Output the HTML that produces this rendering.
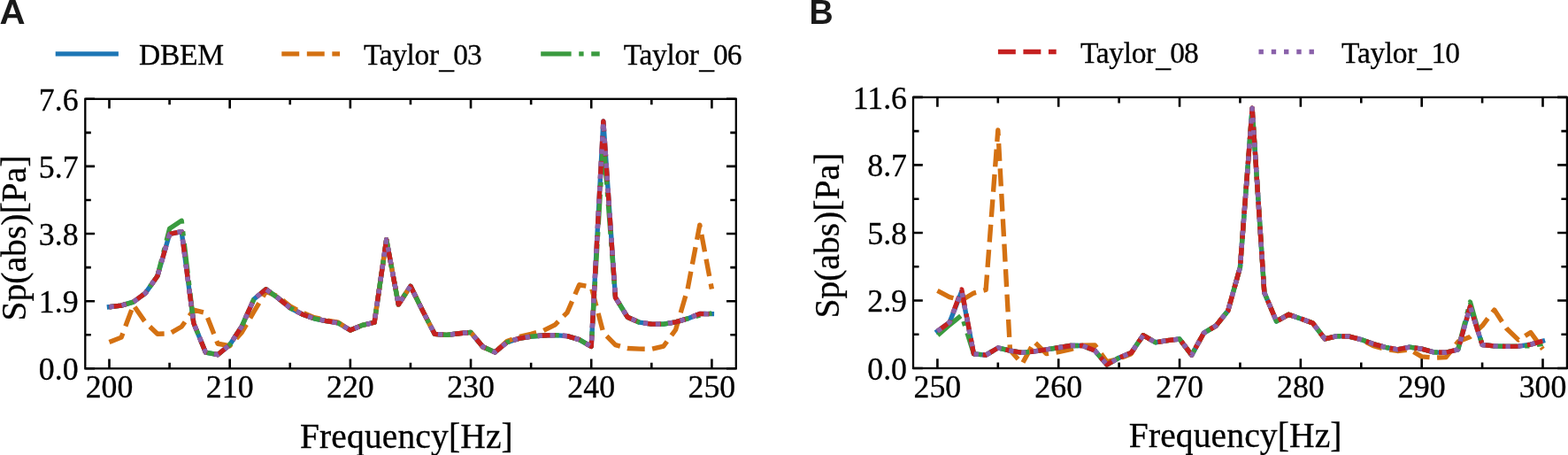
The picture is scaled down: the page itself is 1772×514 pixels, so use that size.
<!DOCTYPE html>
<html lang="en"><head><meta charset="utf-8"><title>Sp(abs) vs Frequency</title>
<style>html,body{margin:0;padding:0;background:#fff;}body{width:1772px;height:514px;overflow:hidden;}svg{display:block;}svg text{font-family:"Liberation Serif",serif;fill:#000;stroke:#000;stroke-width:0.3px;}svg text.pl{font-family:"Liberation Sans",sans-serif;font-weight:bold;fill:#1a1a1a;stroke:none;}</style>
</head><body>
<svg width="1772" height="514" viewBox="0 0 1772 514">
<rect width="1772" height="514" fill="#fff"/>
<clipPath id="cl"><rect x="96.30" y="111.80" width="735.50" height="304.50"/></clipPath>
<clipPath id="cr"><rect x="1032.00" y="109.90" width="738.90" height="306.10"/></clipPath>
<g clip-path="url(#cl)">
<path d="M123.50,346.71 L137.12,345.06 L150.74,341.10 L164.35,331.12 L177.97,311.73 L191.59,264.45 L205.21,261.65 L218.83,365.02 L232.44,398.19 L246.06,400.71 L259.68,389.50 L273.30,368.62 L286.92,337.97 L300.53,326.79 L314.15,336.57 L327.77,347.79 L341.39,354.92 L355.01,359.81 L368.62,362.61 L382.24,364.82 L395.86,372.95 L409.48,367.38 L423.10,364.25 L436.71,270.70 L450.33,343.90 L463.95,323.23 L477.57,350.91 L491.19,377.32 L504.80,378.32 L518.42,376.72 L532.04,375.43 L545.66,391.70 L559.28,397.91 L572.89,386.69 L586.51,382.32 L600.13,380.12 L613.75,379.00 L627.37,378.60 L640.98,379.60 L654.60,383.61 L668.22,391.46 L681.84,137.04 L695.46,336.01 L709.07,358.20 L722.69,364.21 L736.31,366.10 L749.93,366.10 L763.55,363.81 L777.16,359.89 L790.78,354.44 L804.40,354.64" fill="none" stroke="#1d76b5" stroke-width="5.37" stroke-linejoin="round" stroke-linecap="square"/>
<path d="M123.50,386.61 L137.12,381.12 L150.74,344.58 L164.35,364.21 L177.97,377.24 L191.59,376.84 L205.21,369.02 L218.83,350.19 L232.44,353.52 L246.06,388.25 L259.68,390.74 L273.30,375.43 L286.92,352.19 L300.53,329.36 L314.15,334.97 L327.77,345.78 L341.39,353.00 L355.01,358.61 L368.62,361.81 L382.24,364.21 L395.86,372.95 L409.48,367.38 L423.10,364.25 L436.71,270.70 L450.33,343.90 L463.95,323.23 L477.57,350.91 L491.19,377.32 L504.80,378.32 L518.42,376.72 L532.04,375.43 L545.66,391.70 L559.28,397.91 L572.89,385.45 L586.51,380.44 L600.13,377.24 L613.75,373.63 L627.37,366.82 L640.98,353.08 L654.60,321.74 L668.22,324.15 L681.84,375.83 L695.46,389.66 L709.07,393.54 L722.69,394.14 L736.31,394.34 L749.93,391.02 L763.55,372.51 L777.16,326.15 L790.78,254.11 L804.40,326.55" fill="none" stroke="#d47112" stroke-width="5.37" stroke-linejoin="round" stroke-linecap="butt" stroke-dasharray="19.65,8.50"/>
<path d="M123.50,346.71 L137.12,345.06 L150.74,341.10 L164.35,331.12 L177.97,311.73 L191.59,258.32 L205.21,249.23 L218.83,365.02 L232.44,398.19 L246.06,400.71 L259.68,389.50 L273.30,368.62 L286.92,337.97 L300.53,326.79 L314.15,336.57 L327.77,347.79 L341.39,354.92 L355.01,359.81 L368.62,362.61 L382.24,364.82 L395.86,372.95 L409.48,367.38 L423.10,364.25 L436.71,270.70 L450.33,343.90 L463.95,323.23 L477.57,350.91 L491.19,377.32 L504.80,378.32 L518.42,376.72 L532.04,375.43 L545.66,391.70 L559.28,397.91 L572.89,386.69 L586.51,382.32 L600.13,380.12 L613.75,379.00 L627.37,378.60 L640.98,379.60 L654.60,383.61 L668.22,391.46 L681.84,157.88 L695.46,336.01 L709.07,358.20 L722.69,364.21 L736.31,366.10 L749.93,366.10 L763.55,363.81 L777.16,359.89 L790.78,356.20 L804.40,353.80" fill="none" stroke="#3a9b3f" stroke-width="5.37" stroke-linejoin="round" stroke-linecap="butt" stroke-dasharray="33.98,8.50,5.31,8.50" stroke-dashoffset="3.00"/>
<path d="M123.50,346.71 L137.12,345.06 L150.74,341.10 L164.35,331.12 L177.97,311.73 L191.59,264.45 L205.21,261.65 L218.83,365.02 L232.44,398.19 L246.06,400.71 L259.68,389.50 L273.30,368.62 L286.92,337.97 L300.53,326.79 L314.15,336.57 L327.77,347.79 L341.39,354.92 L355.01,359.81 L368.62,362.61 L382.24,364.82 L395.86,372.95 L409.48,367.38 L423.10,364.25 L436.71,270.70 L450.33,343.90 L463.95,323.23 L477.57,350.91 L491.19,377.32 L504.80,378.32 L518.42,376.72 L532.04,375.43 L545.66,391.70 L559.28,397.91 L572.89,386.69 L586.51,382.32 L600.13,380.12 L613.75,379.00 L627.37,378.60 L640.98,379.60 L654.60,383.61 L668.22,391.46 L681.84,137.04 L695.46,336.01 L709.07,358.20 L722.69,364.21 L736.31,366.10 L749.93,366.10 L763.55,363.81 L777.16,359.89 L790.78,354.44 L804.40,354.64" fill="none" stroke="#c52020" stroke-width="5.37" stroke-linejoin="round" stroke-linecap="butt" stroke-dasharray="19.65,8.50"/>
<path d="M123.50,346.71 L137.12,345.06 L150.74,341.10 L164.35,331.12 L177.97,311.73 L191.59,264.45 L205.21,261.65 L218.83,365.02 L232.44,398.19 L246.06,400.71 L259.68,389.50 L273.30,368.62 L286.92,337.97 L300.53,326.79 L314.15,336.57 L327.77,347.79 L341.39,354.92 L355.01,359.81 L368.62,362.61 L382.24,364.82 L395.86,372.95 L409.48,367.38 L423.10,364.25 L436.71,270.70 L450.33,343.90 L463.95,323.23 L477.57,350.91 L491.19,377.32 L504.80,378.32 L518.42,376.72 L532.04,375.43 L545.66,391.70 L559.28,397.91 L572.89,386.69 L586.51,382.32 L600.13,380.12 L613.75,379.00 L627.37,378.60 L640.98,379.60 L654.60,383.61 L668.22,391.46 L681.84,137.04 L695.46,336.01 L709.07,358.20 L722.69,364.21 L736.31,366.10 L749.93,366.10 L763.55,363.81 L777.16,359.89 L790.78,354.44 L804.40,354.64" fill="none" stroke="#8a61aa" stroke-width="5.37" stroke-linejoin="round" stroke-linecap="butt" stroke-dasharray="5.31,8.76"/>
</g>
<path d="M123.50,416.30v-10.80 M123.50,111.80v10.80 M259.68,416.30v-10.80 M259.68,111.80v10.80 M395.86,416.30v-10.80 M395.86,111.80v10.80 M532.04,416.30v-10.80 M532.04,111.80v10.80 M668.22,416.30v-10.80 M668.22,111.80v10.80 M804.40,416.30v-10.80 M804.40,111.80v10.80 M191.59,416.30v-6.50 M191.59,111.80v6.50 M327.77,416.30v-6.50 M327.77,111.80v6.50 M463.95,416.30v-6.50 M463.95,111.80v6.50 M600.13,416.30v-6.50 M600.13,111.80v6.50 M736.31,416.30v-6.50 M736.31,111.80v6.50 M96.30,416.30h10.80 M831.80,416.30h-10.80 M96.30,340.18h10.80 M831.80,340.18h-10.80 M96.30,264.05h10.80 M831.80,264.05h-10.80 M96.30,187.92h10.80 M831.80,187.92h-10.80 M96.30,111.80h10.80 M831.80,111.80h-10.80 M96.30,378.24h6.50 M831.80,378.24h-6.50 M96.30,302.11h6.50 M831.80,302.11h-6.50 M96.30,225.99h6.50 M831.80,225.99h-6.50 M96.30,149.86h6.50 M831.80,149.86h-6.50" stroke="#000" stroke-width="2.60" fill="none"/>
<rect x="96.30" y="111.80" width="735.50" height="304.50" fill="none" stroke="#000" stroke-width="2.30"/>
<g clip-path="url(#cr)">
<path d="M1059.40,374.20 L1073.08,364.20 L1086.76,329.18 L1100.45,399.82 L1114.13,401.09 L1127.81,392.99 L1141.49,396.10 L1155.17,398.35 L1168.86,396.97 L1182.54,394.86 L1196.22,392.75 L1209.90,390.51 L1223.58,390.51 L1237.27,396.10 L1250.95,411.91 L1264.63,404.20 L1278.31,398.61 L1291.99,378.69 L1305.68,386.76 L1319.36,384.65 L1333.04,383.04 L1346.72,401.09 L1360.40,376.18 L1374.09,368.11 L1387.77,351.01 L1401.45,302.00 L1415.13,122.30 L1428.81,330.50 L1442.50,362.96 L1456.18,355.31 L1469.86,359.93 L1483.54,364.91 L1497.22,382.96 L1510.91,379.61 L1524.59,380.11 L1538.27,383.60 L1551.95,388.56 L1565.63,392.30 L1579.32,394.78 L1593.00,392.04 L1606.68,394.15 L1620.36,397.90 L1634.04,398.27 L1647.73,394.78 L1661.41,346.34 L1675.09,389.51 L1688.77,390.85 L1702.45,391.43 L1716.14,391.06 L1729.82,389.11 L1743.50,385.21" fill="none" stroke="#1d76b5" stroke-width="5.37" stroke-linejoin="round" stroke-linecap="square"/>
<path d="M1059.40,328.47 L1073.08,335.57 L1086.76,339.32 L1100.45,331.03 L1114.13,327.49 L1127.81,146.84 L1141.49,395.50 L1155.17,410.99 L1168.86,386.18 L1182.54,399.64 L1196.22,397.61 L1209.90,394.63 L1223.58,390.14 L1237.27,389.88 L1250.95,408.61 L1264.63,405.18 L1278.31,399.64 L1291.99,378.69 L1305.68,386.76 L1319.36,384.65 L1333.04,383.04" fill="none" stroke="#d47112" stroke-width="5.37" stroke-linejoin="round" stroke-linecap="butt" stroke-dasharray="19.87,8.59"/>
<path d="M1333.04,383.04 L1346.72,401.09 L1360.40,376.18 L1374.09,368.11 L1387.77,351.01 L1401.45,302.00 L1415.13,122.30 L1428.81,330.50 L1442.50,362.96 L1456.18,355.31 L1469.86,359.93 L1483.54,364.91 L1497.22,382.96 L1510.91,379.61 L1524.59,380.11 L1538.27,383.60 L1551.95,390.67 L1565.63,394.36 L1579.32,396.47 L1593.00,394.89 L1606.68,402.89 L1620.36,404.13 L1634.04,403.60 L1647.73,386.08 L1661.41,380.48 L1675.09,368.11 L1688.77,350.03 L1702.45,371.01 L1716.14,384.07 L1729.82,375.49 L1743.50,394.36" fill="none" stroke="#d47112" stroke-width="5.37" stroke-linejoin="round" stroke-linecap="butt" stroke-dasharray="19.65,8.50" stroke-dashoffset="-3.50"/>
<path d="M1059.40,379.11 L1073.08,367.05 L1086.76,356.10 L1100.45,399.82 L1114.13,401.09 L1127.81,392.99 L1141.49,396.10 L1155.17,398.35 L1168.86,396.97 L1182.54,394.86 L1196.22,392.75 L1209.90,390.51 L1223.58,390.51 L1237.27,396.10 L1250.95,411.91 L1264.63,404.20 L1278.31,398.61 L1291.99,378.69 L1305.68,386.76 L1319.36,384.65 L1333.04,383.04 L1346.72,401.09 L1360.40,376.18 L1374.09,368.11 L1387.77,351.01 L1401.45,302.00 L1415.13,122.30 L1428.81,330.50 L1442.50,362.96 L1456.18,355.31 L1469.86,359.93 L1483.54,364.91 L1497.22,382.96 L1510.91,379.61 L1524.59,380.11 L1538.27,383.60 L1551.95,388.56 L1565.63,392.30 L1579.32,394.78 L1593.00,392.04 L1606.68,394.15 L1620.36,397.90 L1634.04,398.27 L1647.73,394.78 L1661.41,341.06 L1675.09,389.51 L1688.77,390.85 L1702.45,391.43 L1716.14,391.06 L1729.82,390.67 L1743.50,388.29" fill="none" stroke="#3a9b3f" stroke-width="5.37" stroke-linejoin="round" stroke-linecap="butt" stroke-dasharray="33.98,8.50,5.31,8.50" stroke-dashoffset="-0.50"/>
<path d="M1059.40,374.20 L1073.08,364.20 L1086.76,327.10 L1100.45,399.82 L1114.13,401.09 L1127.81,392.99 L1141.49,396.10 L1155.17,398.35 L1168.86,396.97 L1182.54,394.86 L1196.22,392.75 L1209.90,390.51 L1223.58,390.51 L1237.27,396.10 L1250.95,411.91 L1264.63,404.20 L1278.31,398.61 L1291.99,378.69 L1305.68,386.76 L1319.36,384.65 L1333.04,383.04 L1346.72,401.09 L1360.40,376.18 L1374.09,368.11 L1387.77,351.01 L1401.45,302.00 L1415.13,122.30 L1428.81,330.50 L1442.50,362.96 L1456.18,355.31 L1469.86,359.93 L1483.54,364.91 L1497.22,382.96 L1510.91,379.61 L1524.59,380.11 L1538.27,383.60 L1551.95,388.56 L1565.63,392.30 L1579.32,394.78 L1593.00,392.04 L1606.68,394.15 L1620.36,397.90 L1634.04,398.27 L1647.73,394.78 L1661.41,346.34 L1675.09,389.51 L1688.77,390.85 L1702.45,391.43 L1716.14,391.06 L1729.82,389.11 L1743.50,385.21" fill="none" stroke="#c52020" stroke-width="5.37" stroke-linejoin="round" stroke-linecap="butt" stroke-dasharray="19.65,8.50"/>
<path d="M1059.40,374.20 L1073.08,364.20 L1086.76,329.18 L1100.45,399.82 L1114.13,401.09 L1127.81,392.99 L1141.49,396.10 L1155.17,398.35 L1168.86,396.97 L1182.54,394.86 L1196.22,392.75 L1209.90,390.51 L1223.58,390.51 L1237.27,396.10 L1250.95,411.91 L1264.63,404.20 L1278.31,398.61 L1291.99,378.69 L1305.68,386.76 L1319.36,384.65 L1333.04,383.04 L1346.72,401.09 L1360.40,376.18 L1374.09,368.11 L1387.77,351.01 L1401.45,302.00 L1415.13,122.30 L1428.81,330.50 L1442.50,362.96 L1456.18,355.31 L1469.86,359.93 L1483.54,364.91 L1497.22,382.96 L1510.91,379.61 L1524.59,380.11 L1538.27,383.60 L1551.95,388.56 L1565.63,392.30 L1579.32,394.78 L1593.00,392.04 L1606.68,394.15 L1620.36,397.90 L1634.04,398.27 L1647.73,394.78 L1661.41,346.34 L1675.09,389.51 L1688.77,390.85 L1702.45,391.43 L1716.14,391.06 L1729.82,389.11 L1743.50,385.21" fill="none" stroke="#8a61aa" stroke-width="5.37" stroke-linejoin="round" stroke-linecap="butt" stroke-dasharray="5.31,8.76"/>
</g>
<path d="M1059.40,416.00v-10.80 M1059.40,109.90v10.80 M1196.22,416.00v-10.80 M1196.22,109.90v10.80 M1333.04,416.00v-10.80 M1333.04,109.90v10.80 M1469.86,416.00v-10.80 M1469.86,109.90v10.80 M1606.68,416.00v-10.80 M1606.68,109.90v10.80 M1743.50,416.00v-10.80 M1743.50,109.90v10.80 M1127.81,416.00v-6.50 M1127.81,109.90v6.50 M1264.63,416.00v-6.50 M1264.63,109.90v6.50 M1401.45,416.00v-6.50 M1401.45,109.90v6.50 M1538.27,416.00v-6.50 M1538.27,109.90v6.50 M1675.09,416.00v-6.50 M1675.09,109.90v6.50 M1032.00,416.00h10.80 M1770.90,416.00h-10.80 M1032.00,339.48h10.80 M1770.90,339.48h-10.80 M1032.00,262.95h10.80 M1770.90,262.95h-10.80 M1032.00,186.42h10.80 M1770.90,186.42h-10.80 M1032.00,109.90h10.80 M1770.90,109.90h-10.80 M1032.00,377.74h6.50 M1770.90,377.74h-6.50 M1032.00,301.21h6.50 M1770.90,301.21h-6.50 M1032.00,224.69h6.50 M1770.90,224.69h-6.50 M1032.00,148.16h6.50 M1770.90,148.16h-6.50" stroke="#000" stroke-width="2.60" fill="none"/>
<rect x="1032.00" y="109.90" width="738.90" height="306.10" fill="none" stroke="#000" stroke-width="2.30"/>
<text x="123.50" y="448.60" font-size="35.80" text-anchor="middle">200</text>
<text x="259.68" y="448.60" font-size="35.80" text-anchor="middle">210</text>
<text x="395.86" y="448.60" font-size="35.80" text-anchor="middle">220</text>
<text x="532.04" y="448.60" font-size="35.80" text-anchor="middle">230</text>
<text x="668.22" y="448.60" font-size="35.80" text-anchor="middle">240</text>
<text x="804.40" y="448.60" font-size="35.80" text-anchor="middle">250</text>
<text x="1059.40" y="448.60" font-size="35.80" text-anchor="middle">250</text>
<text x="1196.22" y="448.60" font-size="35.80" text-anchor="middle">260</text>
<text x="1333.04" y="448.60" font-size="35.80" text-anchor="middle">270</text>
<text x="1469.86" y="448.60" font-size="35.80" text-anchor="middle">280</text>
<text x="1606.68" y="448.60" font-size="35.80" text-anchor="middle">290</text>
<text x="1743.50" y="448.60" font-size="35.80" text-anchor="middle">300</text>
<text x="88.60" y="429.20" font-size="35.80" text-anchor="end">0.0</text>
<text x="88.60" y="353.07" font-size="35.80" text-anchor="end">1.9</text>
<text x="88.60" y="276.95" font-size="35.80" text-anchor="end">3.8</text>
<text x="88.60" y="200.82" font-size="35.80" text-anchor="end">5.7</text>
<text x="88.60" y="124.70" font-size="35.80" text-anchor="end">7.6</text>
<text x="1025.00" y="428.60" font-size="35.80" text-anchor="end">0.0</text>
<text x="1025.00" y="352.08" font-size="35.80" text-anchor="end">2.9</text>
<text x="1025.00" y="275.55" font-size="35.80" text-anchor="end">5.8</text>
<text x="1025.00" y="199.02" font-size="35.80" text-anchor="end">8.7</text>
<text x="1025.00" y="122.50" font-size="35.80" text-anchor="end">11.6</text>
<text x="459.40" y="505.80" font-size="39.60" text-anchor="middle" letter-spacing="0.1">Frequency[Hz]</text>
<text x="1396.20" y="505.30" font-size="39.60" text-anchor="middle" letter-spacing="0.1">Frequency[Hz]</text>
<text transform="translate(29.00,269.10) rotate(-90)" font-size="39.60" text-anchor="middle">Sp(abs)[Pa]</text>
<text transform="translate(947.80,266.20) rotate(-90)" font-size="39.60" text-anchor="middle">Sp(abs)[Pa]</text>
<text class="pl" transform="translate(-0.55,26.85) scale(1.060,1)" font-size="38.00">A</text>
<text class="pl" transform="translate(914.45,26.85) scale(0.990,1)" font-size="38.00">B</text>
<path d="M62.72,60.80h71.17" stroke="#1d76b5" stroke-width="5.30" fill="none"/>
<text x="157.00" y="72.90" font-size="33.50" text-anchor="start" letter-spacing="-0.25">DBEM</text>
<path d="M318.30,60.80h65.80" stroke="#d47112" stroke-width="5.30" fill="none" stroke-dasharray="19.91,8.61"/>
<text x="410.90" y="72.90" font-size="33.50" text-anchor="start" dx="0 -0.35 -0.35 -0.35 -0.35 -0.35 0.15 -0.8 -1" dy="0 0 0 0 0 0 4.2 -4.2 0">Taylor_03</text>
<path d="M611.20,60.80h66.50" stroke="#3a9b3f" stroke-width="5.30" fill="none" stroke-dasharray="34.43,8.61,5.38,8.61"/>
<text x="704.80" y="72.90" font-size="33.50" text-anchor="start" dx="0 -0.35 -0.35 -0.35 -0.35 -0.35 0.15 -0.8 -1" dy="0 0 0 0 0 0 4.2 -4.2 0">Taylor_06</text>
<path d="M1127.90,58.50h65.80" stroke="#c52020" stroke-width="5.30" fill="none" stroke-dasharray="19.91,8.61"/>
<text x="1221.00" y="70.90" font-size="33.50" text-anchor="start" dx="0 -0.35 -0.35 -0.35 -0.35 -0.35 0.15 -0.8 -1" dy="0 0 0 0 0 0 4.2 -4.2 0">Taylor_08</text>
<path d="M1422.50,58.50h65.80" stroke="#8a61aa" stroke-width="5.30" fill="none" stroke-dasharray="5.38,8.88"/>
<text x="1516.10" y="70.90" font-size="33.50" text-anchor="start" dx="0 -0.35 -0.35 -0.35 -0.35 -0.35 0.15 -0.8 -1" dy="0 0 0 0 0 0 4.2 -4.2 0">Taylor_10</text>
</svg></body></html>
